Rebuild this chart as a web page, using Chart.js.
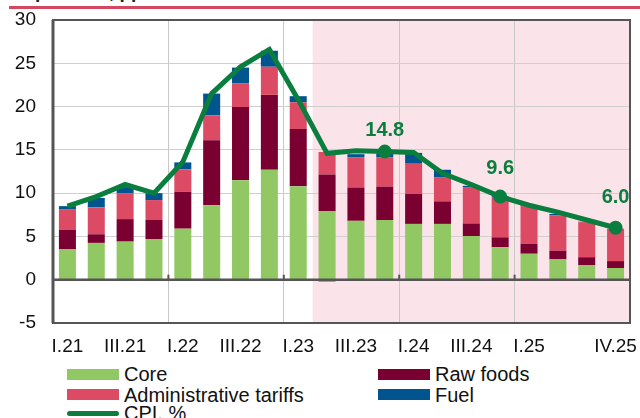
<!DOCTYPE html>
<html>
<head>
<meta charset="utf-8">
<script src="https://cdn.jsdelivr.net/npm/chart.js@4.4.1/dist/chart.umd.min.js"></script>
<style>
  html, body { margin: 0; padding: 0; background: #fff; }
  #wrap { position: relative; width: 640px; height: 418px; overflow: hidden; font-family: "Liberation Sans", Arial, sans-serif; }
  #title { position: absolute; left: -4px; top: -18.5px; font-weight: bold; font-size: 19px; line-height: 19px; color: #222; white-space: nowrap; }
  #rule { position: absolute; left: 9px; right: 0; top: 6px; height: 2.5px; background: #d5475f; }
  #box { position: absolute; left: 0; top: 0; width: 640px; height: 360px; }
  .item { position: absolute; height: 20px; font-size: 20px; line-height: 20px; color: #111; white-space: nowrap; }
  .item .sw { position: absolute; left: 0; top: 4.5px; width: 52px; height: 11px; }
  .item .sw.line { top: 7.5px; height: 5px; border-radius: 2.5px; }
  .item .t { position: absolute; left: 57px; top: 0; }
</style>
</head>
<body>
<div id="wrap">
  <div id="title">components, pp</div>
  <div id="rule"></div>
  <div id="box"><canvas id="myChart"></canvas></div>
  <div id="legend"></div>
</div>
<script>
var quarters = ['I.21', 'II.21', 'III.21', 'IV.21', 'I.22', 'II.22', 'III.22', 'IV.22',
  'I.23', 'II.23', 'III.23', 'IV.23', 'I.24', 'II.24', 'III.24', 'IV.24',
  'I.25', 'II.25', 'III.25', 'IV.25'];
var tickLabels = ['I.21', '', 'III.21', '', 'I.22', '', 'III.22', '', 'I.23', '', 'III.23', '',
  'I.24', '', 'III.24', '', 'I.25', '', '', 'IV.25'];

var core = [3.5, 4.25, 4.4, 4.7, 5.9, 8.6, 11.5, 12.7, 10.8, 7.9, 6.8, 6.9, 6.45, 6.45, 5.05, 3.75, 3.0, 2.35, 1.7, 1.35];
var rawFoods = [2.25, 1.0, 2.6, 2.2, 4.25, 7.5, 8.45, 8.65, 6.6, 4.25, 3.85, 3.85, 3.45, 2.6, 1.45, 1.15, 1.15, 1.0, 0.9, 0.8];
var adminTariffs = [2.35, 3.1, 3.0, 2.3, 2.6, 2.9, 2.75, 3.25, 3.1, 2.6, 3.5, 3.4, 3.5, 2.75, 4.2, 4.65, 4.35, 4.1, 4.05, 3.75];
var fuel = [0.4, 1.1, 0.7, 0.8, 0.8, 2.5, 1.8, 1.85, 0.7, -0.2, 0.35, 0.45, 1.25, 0.9, 0.15, 0.1, 0.1, 0.15, 0.05, 0.0];
var cpi = [8.5, 9.6, 11.0, 10.0, 13.6, 21.5, 24.6, 26.6, 20.8, 14.6, 14.9, 14.8, 14.7, 12.3, 11.0, 9.6, 8.6, 7.8, 6.9, 6.0];

// points that get a marker and a value label
var cpiMarked = [11, 15, 19];
var yearStarts = [4, 8, 12, 16];
var forecastFrom = 9;

var green = '#0a7e3e';

function between(scale, i) {
  return (scale.getPixelForValue(i - 1) + scale.getPixelForValue(i)) / 2;
}

var decorations = {
  id: 'decorations',
  beforeDraw: function (chart) {
    var ctx = chart.ctx, a = chart.chartArea, x = chart.scales.x;
    var left = between(x, forecastFrom);
    ctx.save();
    ctx.fillStyle = '#fbe3ea';
    ctx.fillRect(left, a.top, a.right - left, a.bottom - a.top);
    ctx.restore();
  },
  afterDatasetsDraw: function (chart) {
    var ctx = chart.ctx, a = chart.chartArea, x = chart.scales.x, y = chart.scales.y;
    var zero = y.getPixelForValue(0);
    ctx.save();
    ctx.strokeStyle = '#555';
    ctx.lineWidth = 2.5;
    ctx.beginPath();
    ctx.moveTo(a.left, zero);
    ctx.lineTo(a.right, zero);
    ctx.stroke();
    ctx.lineWidth = 2;
    yearStarts.forEach(function (i) {
      var px = between(x, i);
      ctx.beginPath();
      ctx.moveTo(px, zero - 5);
      ctx.lineTo(px, zero);
      ctx.stroke();
    });
    ctx.strokeRect(a.left, a.top, a.right - a.left, a.bottom - a.top);
    ctx.lineWidth = 3;
    ctx.beginPath();
    ctx.moveTo(a.left, a.top);
    ctx.lineTo(a.left, a.bottom);
    ctx.stroke();

    // value labels above the marked CPI points
    var meta = chart.getDatasetMeta(4);
    var lift = { 11: 21, 15: 28, 19: 30 };
    ctx.fillStyle = green;
    ctx.font = 'bold 20px "Liberation Sans", Arial, sans-serif';
    ctx.textAlign = 'center';
    ctx.textBaseline = 'middle';
    cpiMarked.forEach(function (i) {
      var p = meta.data[i];
      ctx.fillText(cpi[i].toFixed(1), p.x, p.y - lift[i]);
    });
    ctx.restore();
  }
};

var tickFont = { family: '"Liberation Sans", Arial, sans-serif', size: 19 };

var myChart = new Chart(document.getElementById('myChart'), {
  type: 'bar',
  data: {
    labels: quarters,
    datasets: [
      { label: 'Core', data: core, backgroundColor: '#92c864', order: 1 },
      { label: 'Raw foods', data: rawFoods, backgroundColor: '#7b0032', order: 1 },
      { label: 'Administrative tariffs', data: adminTariffs, backgroundColor: '#dc4a63', order: 1 },
      { label: 'Fuel', data: fuel, backgroundColor: '#00558f', order: 1 },
      {
        type: 'line', label: 'CPI, %', data: cpi, order: 0,
        borderColor: green, backgroundColor: green, borderWidth: 5, tension: 0,
        pointRadius: function (c) { return cpiMarked.indexOf(c.dataIndex) >= 0 ? 7 : 0; },
        pointBorderWidth: 0, pointBackgroundColor: green
      }
    ]
  },
  options: {
    responsive: true,
    maintainAspectRatio: false,
    animation: false,
    datasets: { bar: { barPercentage: 0.59, categoryPercentage: 1 } },
    layout: { padding: { left: 0, right: 10, top: 20, bottom: 0 } },
    plugins: { legend: { display: false }, tooltip: { enabled: false } },
    scales: {
      x: {
        stacked: true,
        border: { display: false },
        grid: {
          offset: true,
          drawTicks: false,
          color: function (c) { return yearStarts.indexOf(c.index) >= 0 ? '#c8c8c8' : 'rgba(0,0,0,0)'; }
        },
        ticks: {
          autoSkip: false, maxRotation: 0, padding: 12, color: '#111', font: tickFont,
          callback: function (v, i) { return tickLabels[i]; }
        },
        afterFit: function (s) { s.height = 37; s.paddingLeft = 0; s.paddingRight = 0; }
      },
      y: {
        stacked: true,
        min: -5, max: 30,
        border: { display: false },
        grid: { drawTicks: false, color: '#cfcfcf' },
        ticks: { stepSize: 5, padding: 17, color: '#111', font: tickFont },
        afterFit: function (s) { s.width = 53; s.paddingTop = 0; s.paddingBottom = 0; }
      }
    }
  },
  plugins: [decorations]
});

// two-column legend under the chart, built from the datasets
var legendSlots = [[0, 0], [1, 0], [0, 1], [1, 1], [0, 2]];
var colX = [67, 378], rowY = [374.3, 394.7, 413.3];
var legend = document.getElementById('legend');
myChart.data.datasets.forEach(function (ds, k) {
  var slot = legendSlots[k];
  var item = document.createElement('div');
  item.className = 'item';
  item.style.left = colX[slot[0]] + 'px';
  item.style.top = (rowY[slot[1]] - 10) + 'px';
  var sw = document.createElement('div');
  sw.className = ds.type === 'line' ? 'sw line' : 'sw';
  sw.style.background = ds.type === 'line' ? ds.borderColor : ds.backgroundColor;
  var t = document.createElement('span');
  t.className = 't';
  t.textContent = ds.label;
  item.appendChild(sw);
  item.appendChild(t);
  legend.appendChild(item);
});
</script>
</body>
</html>
